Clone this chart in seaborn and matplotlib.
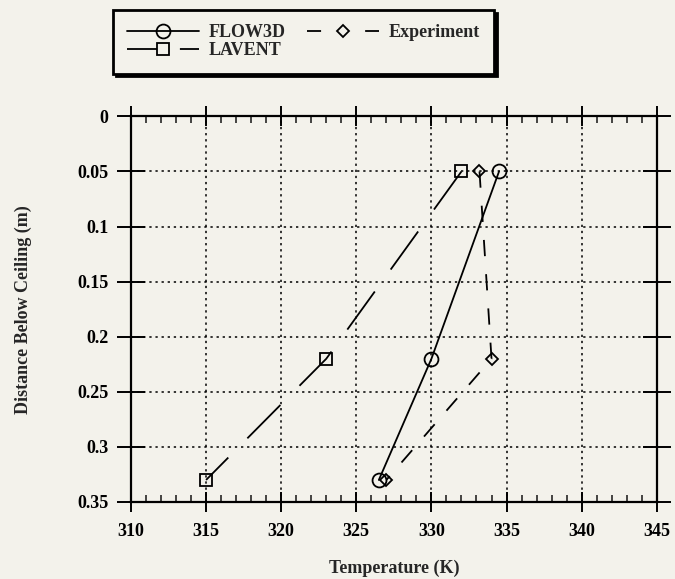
import matplotlib
matplotlib.use("Agg")
import matplotlib.pyplot as plt
import seaborn as sns
import pandas as pd
from matplotlib.lines import Line2D
from matplotlib.ticker import FixedLocator, MultipleLocator

# Measured temperature profiles below the ceiling
flow3d_temp = [334.5, 330.0, 326.5]
flow3d_depth = [0.05, 0.22, 0.33]
lavent_temp = [332.0, 323.0, 315.0]
lavent_depth = [0.05, 0.22, 0.33]
exp_temp = [333.2, 334.0, 327.0]
exp_depth = [0.05, 0.22, 0.33]

x_ticks = [310, 315, 320, 325, 330, 335, 340, 345]
y_ticks = [0, 0.05, 0.1, 0.15, 0.2, 0.25, 0.3, 0.35]
y_tick_labels = ["0", "0.05", "0.1", "0.15", "0.2", "0.25", "0.3", "0.35"]

sns.set_style("white")
plt.rcParams["font.family"] = ["Liberation Serif", "DejaVu Serif"]
plt.rcParams["font.weight"] = "bold"

bg = "#f3f2eb"
fs = 13
fig = plt.figure(figsize=(6.75, 5.79), dpi=100, facecolor=bg)
ax = fig.add_axes([0.194, 0.133, 0.779, 0.666])
ax.set_facecolor(bg)

df_flow = pd.DataFrame({"T": flow3d_temp, "d": flow3d_depth})
df_lav = pd.DataFrame({"T": lavent_temp, "d": lavent_depth})
df_exp = pd.DataFrame({"T": exp_temp, "d": exp_depth})

common = dict(sort=False, estimator=None, ax=ax, color="black", lw=1.3,
              markerfacecolor="none", markeredgecolor="black", markeredgewidth=1.3)
sns.lineplot(data=df_flow, x="T", y="d", marker="o", markersize=10,
             label="FLOW3D", **common)
sns.lineplot(data=df_lav, x="T", y="d", marker="s", markersize=9,
             dashes=(26, 15), label="LAVENT", **common)
sns.lineplot(data=df_exp, x="T", y="d", marker="D", markersize=6,
             dashes=(9, 10), label="Experiment", **common)

ax.set_xlim(310, 345)
ax.set_ylim(0.35, 0)
ax.xaxis.set_major_locator(FixedLocator(x_ticks))
ax.xaxis.set_minor_locator(MultipleLocator(1))
ax.yaxis.set_major_locator(FixedLocator(y_ticks))
ax.set_xticklabels([str(t) for t in x_ticks])
ax.set_yticklabels(y_tick_labels)

for s in ax.spines.values():
    s.set_color("black")
    s.set_linewidth(1.6)

ax.grid(True, which="major", color="black", linestyle=(0, (1.5, 2.5)), linewidth=1.1)
ax.tick_params(axis="x", which="major", direction="inout", length=14, width=1.4,
               top=True, bottom=True, labelsize=fs, pad=8, colors="black")
ax.tick_params(axis="x", which="minor", direction="in", length=5, width=1.2,
               top=True, bottom=True)
ax.tick_params(axis="y", which="major", direction="inout", length=20, width=1.4,
               left=True, right=True, labelsize=fs, pad=6, colors="black")
for lab in ax.get_xticklabels() + ax.get_yticklabels():
    lab.set_fontweight("bold")

ax.set_xlabel("Temperature (K)", fontsize=fs, fontweight="bold", labelpad=14)
ax.set_ylabel("Distance Below Ceiling (m)", fontsize=fs, fontweight="bold", labelpad=33)

# Legend keys with dash patterns sized for the short key length
ax.get_legend().remove()
key_style = dict(color="black", lw=1.3, markerfacecolor="none",
                 markeredgecolor="black", markeredgewidth=1.3)
handles = [
    Line2D([], [], marker="o", markersize=10, **key_style),
    Line2D([], [], marker="s", markersize=9, dashes=(16.6, 12.7, 12, 10), **key_style),
    Line2D([], [], marker="D", markersize=6, dashes=(7.8, 24.4), **key_style),
]
labels = ["FLOW3D", "LAVENT", "Experiment"]
leg = fig.legend(handles, labels, loc="upper left", bbox_to_anchor=(0.167, 0.983),
                 ncol=2, frameon=True, fancybox=False, borderaxespad=0,
                 shadow={"color": "black", "alpha": 1.0}, fontsize=fs,
                 handlelength=4.0, columnspacing=1.2, labelspacing=0.05,
                 borderpad=0.8, handletextpad=0.5)
frame = leg.get_frame()
frame.set_edgecolor("black")
frame.set_linewidth(2.0)
frame.set_facecolor(bg)
for t in leg.get_texts():
    t.set_fontweight("bold")

fig.savefig("out.png", dpi=100, facecolor=bg)
